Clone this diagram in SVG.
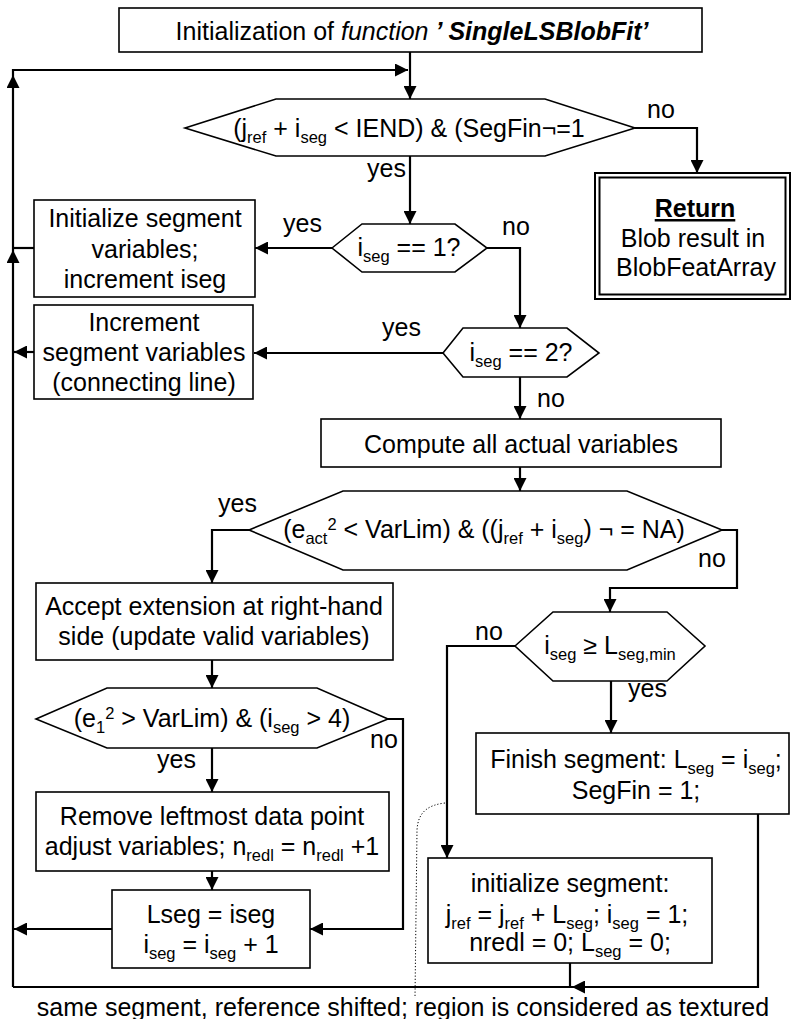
<svg xmlns="http://www.w3.org/2000/svg" width="791" height="1019" viewBox="0 0 791 1019">
<defs>
<marker id="ah" viewBox="0 0 13 13" markerWidth="13" markerHeight="13" refX="13" refY="6.5" orient="auto" markerUnits="userSpaceOnUse">
<path d="M0,0 L13,6.5 L0,13 z" fill="#000"/>
</marker>
</defs>
<style>
text{font-family:"Liberation Sans",Arial,sans-serif;font-size:25px;fill:#000}
.c{text-anchor:middle}
.b{fill:#fff;stroke:#000;stroke-width:1.6}
.ln{fill:none;stroke:#000;stroke-width:2.2}
.ar{fill:none;stroke:#000;stroke-width:2.2;marker-end:url(#ah)}
.s{font-size:16.5px}
</style>
<rect width="791" height="1019" fill="#fff"/>
<g id="connectors">
<path class="ar" d="M410,52 L410,99"/>
<path class="ar" d="M13,75 L13,70 L408,70"/>
<path class="ar" d="M635,128 L697,128 L697,173"/>
<path class="ar" d="M410,156 L410,224"/>
<path class="ar" d="M332,248 L255,248"/>
<path class="ar" d="M487,248 L520,248 L520,328"/>
<path class="ar" d="M443,353 L254,353"/>
<path class="ar" d="M520,377 L520,419"/>
<path class="ar" d="M520,467 L520,491"/>
<path class="ar" d="M249,530 L212,530 L212,583"/>
<path class="ar" d="M722,530 L737,530 L737,588 L610,588 L610,612"/>
<path class="ar" d="M212,660 L212,688"/>
<path class="ar" d="M212,748 L212,792"/>
<path class="ar" d="M388,719 L403,719 L403,929 L310,929"/>
<path class="ar" d="M212,871 L212,890"/>
<path class="ar" d="M112,929 L14,929"/>
<path class="ar" d="M34,352 L14,352"/>
<path class="ln" d="M34,248 L13,248"/>
<path class="ar" d="M13,987 L13,250"/>
<path class="ar" d="M13,250 L13,75"/>
<path class="ar" d="M515,646 L447,646 L447,858"/>
<path class="ar" d="M611,681 L611,733"/>
<path class="ar" d="M758,814 L758,987 L572,987"/>
<path class="ln" d="M572,987 L13,987"/>
<path class="ln" d="M570,963 L570,987"/>
<path d="M445,803 C428,805 418,812 417,830 L415,998" fill="none" stroke="#000" stroke-width="1" stroke-dasharray="1.2,2"/>
</g>
<g id="labels">
<text x="647" y="118">no</text>
<text x="367" y="177">yes</text>
<text x="283" y="232">yes</text>
<text x="502" y="235">no</text>
<text x="382" y="336">yes</text>
<text x="537" y="407">no</text>
<text x="218" y="512">yes</text>
<text x="698" y="567">no</text>
<text x="475" y="640">no</text>
<text x="628" y="697">yes</text>
<text x="370" y="748">no</text>
<text x="157" y="768">yes</text>
</g>
<g id="init">
<rect class="b" x="119" y="8" width="583" height="44"/>
<text class="c" x="412" y="40">Initialization of <tspan font-style="italic">function</tspan><tspan font-style="italic" font-weight="bold"> ’ SingleLSBlobFit’</tspan></text>
</g>
<g id="d1">
<polygon class="b" points="185,128 276,99 545,99 635,128 545,156 276,156"/>
<text class="c" x="409" y="137">(j<tspan class="s" dy="6">ref</tspan><tspan dy="-6"> + i</tspan><tspan class="s" dy="6">seg</tspan><tspan dy="-6"> &lt; IEND) &amp; (SegFin¬=1</tspan></text>
</g>
<g id="ret">
<rect x="595" y="173" width="195" height="126" fill="#fff" stroke="#000" stroke-width="2"/>
<rect x="599.5" y="177.5" width="186" height="117" fill="none" stroke="#000" stroke-width="2"/>
<text class="c" x="695" y="217" font-weight="bold" text-decoration="underline">Return</text>
<text class="c" x="693" y="247">Blob result in</text>
<text class="c" x="696" y="276">BlobFeatArray</text>
</g>
<g id="d2">
<polygon class="b" points="332,248 362,224 455,224 487,248 455,272 362,272"/>
<text class="c" x="409" y="256">i<tspan class="s" dy="6">seg</tspan><tspan dy="-6"> == 1?</tspan></text>
</g>
<g id="b1">
<rect class="b" x="34" y="200" width="221" height="97"/>
<text class="c" x="145" y="227">Initialize segment</text>
<text class="c" x="145" y="258">variables;</text>
<text class="c" x="145" y="288">increment iseg</text>
</g>
<g id="b2">
<rect class="b" x="34" y="305" width="219" height="94"/>
<text class="c" x="144" y="331">Increment</text>
<text class="c" x="144" y="361">segment variables</text>
<text class="c" x="144" y="391">(connecting line)</text>
</g>
<g id="d3">
<polygon class="b" points="443,353 463,328 567,328 599,353 567,377 463,377"/>
<text class="c" x="521" y="361">i<tspan class="s" dy="6">seg</tspan><tspan dy="-6"> == 2?</tspan></text>
</g>
<g id="compute">
<rect class="b" x="321" y="419" width="400" height="48"/>
<text class="c" x="521" y="453">Compute all actual variables</text>
</g>
<g id="d4">
<polygon class="b" points="249,530 343,491 627,491 722,530 627,570 343,570"/>
<text class="c" x="484" y="538">(e<tspan class="s" dy="6">act</tspan><tspan class="s" dy="-14">2</tspan><tspan dy="8"> &lt; VarLim) &amp; ((j</tspan><tspan class="s" dy="6">ref</tspan><tspan dy="-6"> + i</tspan><tspan class="s" dy="6">seg</tspan><tspan dy="-6">) ¬ = NA)</tspan></text>
</g>
<g id="accept">
<rect class="b" x="36" y="583" width="357" height="77"/>
<text class="c" x="214" y="615">Accept extension at right-hand</text>
<text class="c" x="214" y="645">side (update valid variables)</text>
</g>
<g id="d5">
<polygon class="b" points="515,646 553,612 667,612 705,646 667,681 553,681"/>
<text class="c" x="610" y="654">i<tspan class="s" dy="6">seg</tspan><tspan dy="-6"> ≥ L</tspan><tspan class="s" dy="6">seg,min</tspan></text>
</g>
<g id="d6">
<polygon class="b" points="36,719 107,688 317,688 388,719 317,748 107,748"/>
<text class="c" x="212" y="727">(e<tspan class="s" dy="6">1</tspan><tspan class="s" dy="-14">2</tspan><tspan dy="8"> &gt; VarLim) &amp; (i</tspan><tspan class="s" dy="6">seg</tspan><tspan dy="-6"> &gt; 4)</tspan></text>
</g>
<g id="finish">
<rect class="b" x="476" y="733" width="313" height="81"/>
<text class="c" x="636" y="768">Finish segment: L<tspan class="s" dy="6">seg</tspan><tspan dy="-6"> = i</tspan><tspan class="s" dy="6">seg</tspan><tspan dy="-6">;</tspan></text>
<text class="c" x="636" y="799">SegFin = 1;</text>
</g>
<g id="remove">
<rect class="b" x="36" y="792" width="353" height="79"/>
<text class="c" x="212" y="825">Remove leftmost data point</text>
<text class="c" x="212" y="855">adjust variables; n<tspan class="s" dy="6">redl</tspan><tspan dy="-6"> = n</tspan><tspan class="s" dy="6">redl</tspan><tspan dy="-6"> +1</tspan></text>
</g>
<g id="lseg">
<rect class="b" x="112" y="890" width="198" height="78"/>
<text class="c" x="211" y="923">Lseg = iseg</text>
<text class="c" x="211" y="953">i<tspan class="s" dy="6">seg</tspan><tspan dy="-6"> = i</tspan><tspan class="s" dy="6">seg</tspan><tspan dy="-6"> + 1</tspan></text>
</g>
<g id="initseg">
<rect class="b" x="428" y="858" width="284" height="105"/>
<text class="c" x="570" y="892">initialize segment:</text>
<text class="c" x="567" y="923">j<tspan class="s" dy="6">ref</tspan><tspan dy="-6"> = j</tspan><tspan class="s" dy="6">ref</tspan><tspan dy="-6"> + L</tspan><tspan class="s" dy="6">seg</tspan><tspan dy="-6">; i</tspan><tspan class="s" dy="6">seg</tspan><tspan dy="-6"> = 1;</tspan></text>
<text class="c" x="570" y="951">nredl = 0; L<tspan class="s" dy="6">seg</tspan><tspan dy="-6"> = 0;</tspan></text>
</g>
<text class="c" x="403" y="1016">same segment, reference shifted; region is considered as textured</text>
</svg>
